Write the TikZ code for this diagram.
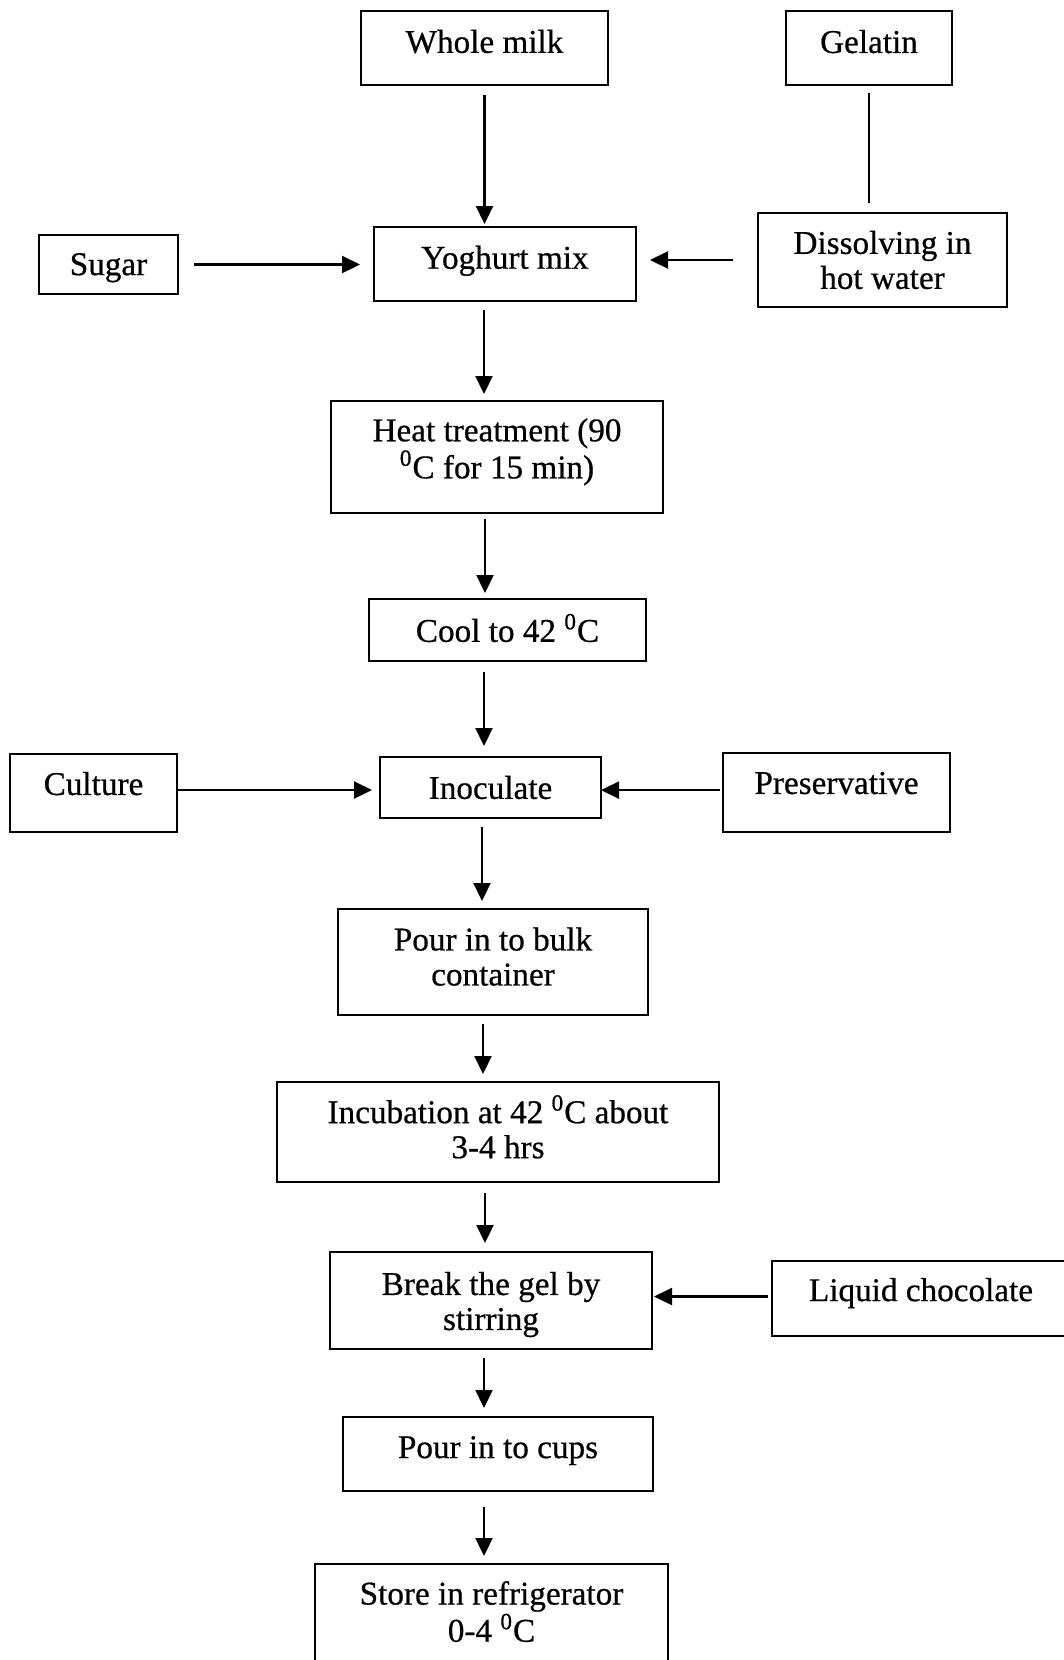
\documentclass[tikz,border=0pt]{standalone}
\usepackage{fontspec}
\setmainfont{Liberation Serif}[BoldFont={Liberation Serif}, BoldFeatures={FakeBold=0.6}]
\usetikzlibrary{arrows.meta}
\begin{document}
\begin{tikzpicture}[x=0.5pt,y=-0.5pt,
  bx/.style 2 args={draw, line width=1.2pt, inner sep=0pt, outer sep=0pt,
    minimum width=#1*0.5pt, minimum height=#2*0.5pt},
  lbl/.style={align=center, inner sep=0pt, font=\fontsize{16.6}{17.5}\selectfont\bfseries},
  arr/.style={line width=1.1pt, -{Triangle[length=9pt,width=8.5pt]}},
  ln/.style={line width=1.1pt}]
\useasboundingbox (0,0) rectangle (1064,1660);
\clip (0,0) rectangle (1064,1660);
\fill[white] (0,0) rectangle (1064,1660);
\coordinate (col) at (484,0);
% boxes
\node[bx={247}{74}, label={[lbl,yshift=3.2pt]center:Whole milk}] (milk) at (484.5,48) {};
\node[bx={166}{74}, label={[lbl,yshift=3.2pt]center:Gelatin}] (gel) at (869,48) {};
\node[bx={139}{59}, label={[lbl,yshift=-1.6pt]center:Sugar}] (sugar) at (108.5,264.5) {};
\node[bx={262}{74}, label={[lbl,yshift=1.6pt]center:Yoghurt mix}] (ymix) at (505,264) {};
\node[bx={249}{94}, label={[lbl]center:Dissolving in\\hot water}] (diss) at (882.5,260) {};
\node[bx={332}{112}, label={[lbl,yshift=2.6pt]center:Heat treatment (90\\\textsuperscript{0}C for 15 min)}] (heat) at (497,457) {};
\node[bx={277}{62}, label={[lbl,yshift=1pt]center:Cool to 42 \textsuperscript{0}C}] (cool) at (507.5,630) {};
\node[bx={167}{78}, label={[lbl,yshift=4.7pt]center:Culture}] (cult) at (93.5,793) {};
\node[bx={221}{61}, label={[lbl]center:Inoculate}] (inoc) at (490.5,787.5) {};
\node[bx={227}{79}, label={[lbl,yshift=4.7pt]center:Preservative}] (pres) at (836.5,792.5) {};
\node[bx={310}{106}, label={[lbl,yshift=2.7pt]center:Pour in to bulk\\container}] (bulk) at (493,962) {};
\node[bx={442}{100}, label={[lbl,yshift=2.6pt]center:Incubation at 42 \textsuperscript{0}C about\\3-4 hrs}] (incub) at (498,1132) {};
\node[bx={322}{97}, label={[lbl,yshift=-2pt]center:Break the gel by\\stirring}] (brk) at (491,1300.5) {};
\node[bx={298}{75}, label={[lbl,yshift=2.7pt]center:Liquid chocolate}] (choc) at (921,1298.5) {};
\node[bx={310}{74}, label={[lbl,yshift=1.7pt]center:Pour in to cups}] (cups) at (498,1454) {};
\node[bx={353}{116}, label={[lbl,yshift=5.2pt]center:Store in refrigerator\\0-4 \textsuperscript{0}C}] (store) at (491.5,1622) {};
% connectors
\draw[arr, shorten <=5pt, shorten >=1.5pt] (milk.south) -- (milk.south |- ymix.north);
\draw[ln, shorten <=4pt, shorten >=5pt] (gel.south) -- (gel.south |- diss.north);
\draw[arr, shorten <=8pt, shorten >=7pt] (sugar.east) -- (sugar.east -| ymix.west);
\draw[arr, shorten <=12.5pt, shorten >=7pt] (diss.west) -- (diss.west -| ymix.east);
\draw[arr, shorten <=4.5pt, shorten >=3.5pt] (ymix.south -| col) -- (heat.north -| col);
\draw[arr, shorten <=3pt, shorten >=3pt] ([xshift=0.5pt]heat.south -| col) -- ([xshift=0.5pt]cool.north -| col);
\draw[arr, shorten <=5.5pt, shorten >=5.5pt] (cool.south -| col) -- (inoc.north -| col);
\draw[arr, shorten <=0.5pt, shorten >=4pt] ([yshift=1.5pt]cult.east) -- ([yshift=1.5pt]cult.east -| inoc.west);
\draw[arr, shorten <=1.5pt, shorten >=0pt] ([yshift=1.2pt]pres.west) -- ([yshift=1.2pt]pres.west -| inoc.east);
\draw[arr, shorten <=4.5pt, shorten >=4pt] ([xshift=-1pt]inoc.south -| col) -- ([xshift=-1pt]bulk.north -| col);
\draw[arr, shorten <=4.5pt, shorten >=4pt] ([xshift=-0.5pt]bulk.south -| col) -- ([xshift=-0.5pt]incub.north -| col);
\draw[arr, shorten <=5.5pt, shorten >=4.5pt] ([xshift=0.5pt]incub.south -| col) -- ([xshift=0.5pt]brk.north -| col);
\draw[arr, shorten <=2pt, shorten >=1pt] ([yshift=1pt]choc.west) -- ([yshift=1pt]choc.west -| brk.east);
\draw[arr, shorten <=4.5pt, shorten >=4.5pt] (brk.south -| col) -- (cups.north -| col);
\draw[arr, shorten <=8pt, shorten >=4pt] (cups.south -| col) -- (store.north -| col);
\end{tikzpicture}
\end{document}
